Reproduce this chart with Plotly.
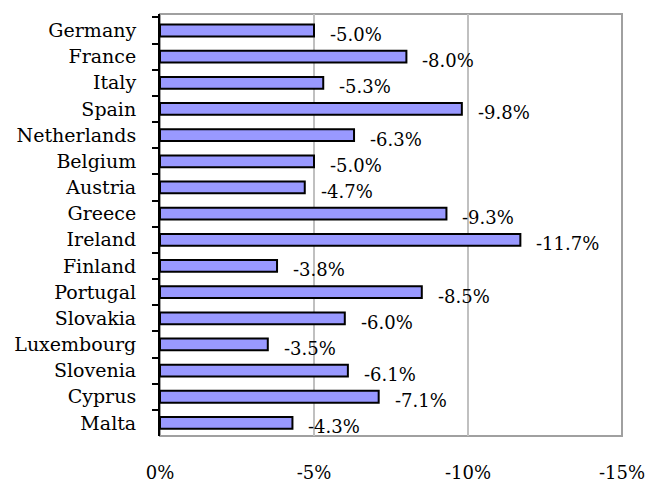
import plotly.graph_objects as go

countries = ["Germany", "France", "Italy", "Spain", "Netherlands", "Belgium", "Austria",
             "Greece", "Ireland", "Finland", "Portugal", "Slovakia", "Luxembourg",
             "Slovenia", "Cyprus", "Malta"]
values = [-5.0, -8.0, -5.3, -9.8, -6.3, -5.0, -4.7, -9.3, -11.7, -3.8, -8.5, -6.0, -3.5,
          -6.1, -7.1, -4.3]
x_ticks = [0, -5, -10, -15]
x_tick_labels = ["0%", "-5%", "-10%", "-15%"]

FONT = "DejaVu Serif"
FS = 18

fig = go.Figure()
fig.add_trace(go.Bar(
    y=countries, x=values, orientation="h",
    marker=dict(color="#9999FF", line=dict(color="black", width=2)),
    width=0.45,
))

for c, v in zip(countries, values):
    fig.add_annotation(x=v, y=c, text=f"{v:.1f}%", showarrow=False,
                       xanchor="left", yanchor="middle", xshift=14, yshift=-4,
                       font=dict(family=FONT, size=FS, color="black"))

fig.update_layout(
    width=649, height=484,
    margin=dict(l=160, r=27, t=14, b=48),
    paper_bgcolor="white", plot_bgcolor="white",
    showlegend=False,
    font=dict(family=FONT, size=FS, color="black"),
    shapes=[dict(type="rect", xref="paper", yref="paper", x0=0, x1=1, y0=0, y1=1,
                 line=dict(color="#A0A0A0", width=2), layer="below")],
)
fig.update_xaxes(
    range=[0, -15], tickvals=x_ticks, ticktext=x_tick_labels,
    showgrid=True, gridcolor="#C0C0C0", gridwidth=2, zeroline=False,
    ticks="", ticklabelstandoff=24, automargin=False,
)
fig.update_yaxes(
    categoryorder="array", categoryarray=countries, autorange="reversed",
    showline=True, linecolor="black", linewidth=2,
    ticks="outside", tickson="boundaries", ticklen=6, tickwidth=2, tickcolor="black",
    ticklabelstandoff=18, showgrid=False, automargin=False,
    tickfont=dict(family=FONT, size=19, color="black"),
)

fig.write_html("out.html", post_script="document.body.style.margin='0';",
               config={"displayModeBar": False})
